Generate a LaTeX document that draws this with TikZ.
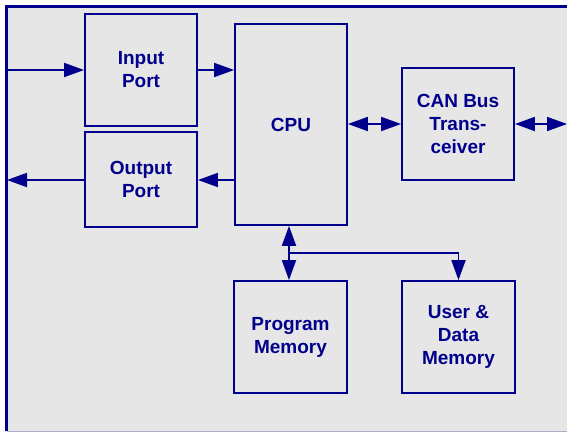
\documentclass[tikz,border=0pt]{standalone}
\usepackage{fontspec}
\setmainfont{Liberation Sans}
\usetikzlibrary{arrows.meta}
\definecolor{navyline}{RGB}{0,0,140}
\definecolor{panelgray}{RGB}{230,230,230}
\definecolor{bottomline}{RGB}{175,175,205}
\begin{document}
\begin{tikzpicture}[x=1pt,y=-1pt,
  blockbox/.style={draw=navyline, line width=1.8pt, fill=panelgray, align=center,
    text=navyline, font=\fontsize{19}{23}\selectfont\bfseries,
    minimum width=112pt, inner sep=0pt},
  conn/.style={draw=navyline, line width=1.8pt},
  arr/.style={conn, -{Triangle[length=20pt,width=14pt]}},
  arrboth/.style={conn, {Triangle[length=20pt,width=14pt]}-{Triangle[length=20pt,width=14pt]}}
]
\useasboundingbox (0,0) rectangle (567,432);
\fill[white] (0,0) rectangle (567,432);
\fill[panelgray] (6.5,6.5) rectangle (567,430.5);
\draw[bottomline, line width=1pt] (6.5,431.2) -- (567,431.2);
\draw[navyline, line width=2.7pt] (6.5,431) -- (6.5,6.5) -- (567,6.5);

\node[blockbox, minimum height=112pt] (inp) at (141,70) {Input\\Port};
\node[blockbox, minimum height=95pt] (outp) at (141,179.5) {Output\\Port};
\node[blockbox, minimum height=201pt] (cpu) at (291,124.5) {CPU};
\node[blockbox, minimum height=112pt] (can) at (458,124) {CAN Bus\\Trans-\\ceiver};
\node[blockbox, minimum height=112pt, minimum width=113pt] (pm) at (290.5,337) {Program\\Memory};
\node[blockbox, minimum height=112pt, minimum width=113pt] (udm) at (458.5,337) {User \&\\Data\\Memory};

\coordinate (inL) at (7,70);
\coordinate (outL) at (7,180);
\coordinate (canR) at (567,124);
\coordinate (J) at (289,253);

\draw[arr] (inL) -- (inp.west);
\draw[arr] (inp.east) -- (inp.east -| cpu.west);
\draw[arr] (cpu.west |- 0,180) -- (outp.east |- 0,180);
\draw[arr] (outp.west |- outL) -- (outL);
\draw[arrboth] (cpu.east |- can.west) -- (can.west);
\draw[arrboth] (can.east) -- (canR);
\draw[arrboth] (J |- cpu.south) -- (J |- pm.north);
\draw[arr] (J) -| (udm.north);
\end{tikzpicture}
\end{document}
